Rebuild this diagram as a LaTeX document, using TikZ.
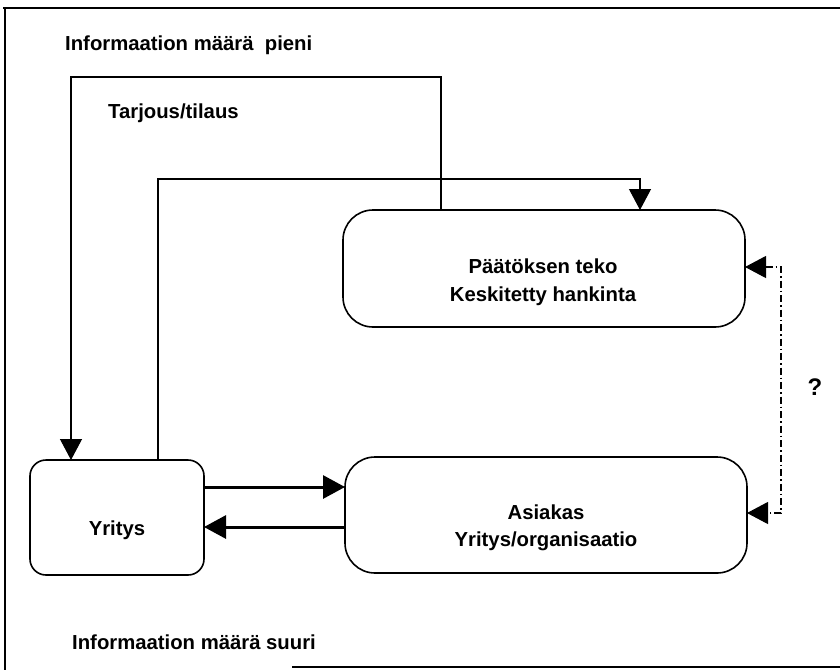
\documentclass[tikz,border=0pt]{standalone}
\usepackage{fontspec}
\setmainfont{Liberation Sans}
\usetikzlibrary{arrows.meta}
\begin{document}
\begin{tikzpicture}[x=1pt,y=-1pt,
  box/.style={draw,line width=1.6pt,inner sep=0pt,outer sep=0pt},
  lbl/.style={inner sep=0pt,font=\fontsize{20.3}{24}\selectfont\bfseries},
  thin conn/.style={line width=1.2pt,-{Triangle[length=21pt,width=22pt]}},
  thick conn/.style={line width=3pt,-{Triangle[length=22pt,width=23pt]}},
  dd conn/.style={line width=1.1pt,dash pattern=on 7pt off 3pt on 1.5pt off 3pt,
    {Triangle[length=21pt,width=22pt]}-{Triangle[length=21pt,width=22pt]}}]
\useasboundingbox (0,0) rectangle (840,670);
% frame
\draw[line width=2.2pt] (3,8) -- (840,8);
\draw[line width=1.8pt] (5,8) -- (5,670);
\draw[line width=2.8pt] (292,667) -- (840,667);
% boxes
\node[box,rounded corners=30pt,minimum width=402pt,minimum height=117pt] (paat) at (544,268.5) {};
\node[box,rounded corners=30pt,minimum width=402pt,minimum height=116pt] (asi) at (546,515) {};
\node[box,rounded corners=16pt,minimum width=174pt,minimum height=115pt] (yri) at (117,517.5) {};
% texts
\node[lbl,anchor=west] (pieni) at (65,45) {Informaation määrä\ \ pieni};
\node[lbl,anchor=west] (tarj) at (108,113) {Tarjous/tilaus};
\node[lbl,anchor=west] (suuri) at (72,642) {Informaation määrä suuri};
\node[lbl] (t1) at (543,266) {Päätöksen teko};
\node[lbl] (t2) at (543,296) {Keskitetty hankinta};
\node[lbl] (t3) at (546,512) {Asiakas};
\node[lbl] (t4) at (546,541) {Yritys/organisaatio};
\node[lbl] (t5) at (117,530) {Yritys};
\node[lbl,font=\fontsize{24}{28}\selectfont\bfseries] (q) at (815,387) {?};
% bend points
\coordinate (b1) at (441,77);
\coordinate (b2) at (71,77);
\coordinate (b3) at (158,179);
\coordinate (b4) at (640,179);
\coordinate (h1) at (0,487);
\coordinate (h2) at (0,527);
\coordinate (d1) at (781,267);
\coordinate (d2) at (781,513);
% connectors
\draw[thin conn] (paat.north -| b1) -- (b1) -- (b2) -- (b2 |- yri.north);
\draw[thin conn] (yri.north -| b3) -- (b3) -- (b4) -- (b4 |- paat.north);
\draw[thick conn] (yri.east |- h1) -- (asi.west |- h1);
\draw[thick conn] (asi.west |- h2) -- (yri.east |- h2);
\draw[dd conn] (paat.east |- d1) -- (d1) -- (d2) -- (asi.east |- d2);
\end{tikzpicture}
\end{document}
